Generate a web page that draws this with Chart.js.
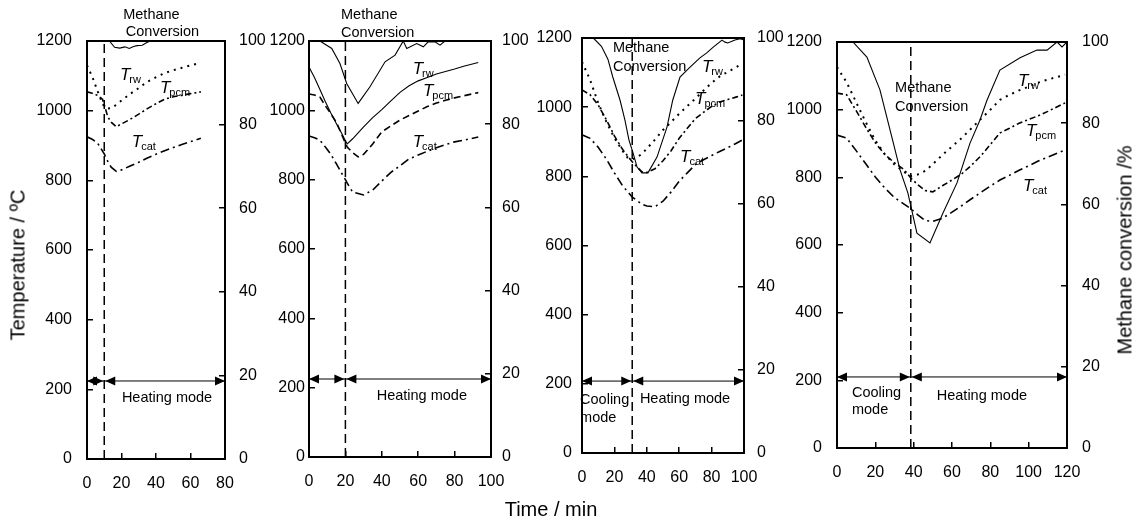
<!DOCTYPE html>
<html>
<head>
<meta charset="utf-8">
<script src="https://cdn.jsdelivr.net/npm/chart.js@4.4.1/dist/chart.umd.min.js"></script>
<style>
  body { margin: 0; background: #fff; width: 1136px; height: 521px; position: relative; overflow: hidden;
         font-family: "Liberation Sans", Arial, sans-serif; }
  canvas { position: absolute; top: 0; }
  .title { position: absolute; font-size: 20px; color: #000; white-space: nowrap; transform-origin: center; }
</style>
</head>
<body>
<canvas id="p1"></canvas>
<canvas id="p2"></canvas>
<canvas id="p3"></canvas>
<canvas id="p4"></canvas>
<div class="title" id="yLeft">Temperature / ºC</div>
<div class="title" id="yRight">Methane conversion /%</div>
<div class="title" id="xTitle">Time / min</div>
<script>
// panel 1 (mode switch at 10 min)
const p1Switch = 10;
const p1Time = [0, 3, 6, 9, 10, 12, 14, 17, 20, 25, 30, 35, 40, 45, 50, 55, 60, 66];
const p1Trw  = [1130, 1098, 1058, 1020, 1012, 1006, 1007, 1017, 1029, 1048, 1065, 1083, 1096, 1108, 1116, 1123, 1130, 1137];
const p1Tpcm = [1054, 1050, 1044, 1033, 1017, 983, 967, 954, 962, 975, 990, 1006, 1020, 1033, 1040, 1044, 1049, 1054];
const p1Tcat = [925, 918, 908, 884, 876, 855, 838, 826, 830, 841, 852, 864, 875, 885, 894, 903, 911, 921];
const p1ConvTime = [0, 13, 16, 19, 22, 24.5, 27, 29, 32, 34.5, 36.5, 66];
const p1Conv     = [100, 100, 98.5, 98.3, 98.6, 98.2, 98.7, 98.9, 99.0, 99.6, 100, 100];

// panel 2 (switch at 20 min)
const p2Switch = 20;
const p2Time = [0, 3, 6, 9, 12, 15, 18, 20, 21, 24, 27, 30, 35, 40, 45, 50, 55, 60, 65, 70, 75, 80, 85, 93];
const p2Trw  = [1125, 1095, 1060, 1025, 992, 962, 933, 912, 903, 918, 935, 952, 979, 1002, 1027, 1052, 1071, 1085, 1095, 1105, 1112, 1119, 1127, 1138];
const p2Tpcm = [1047, 1044, 1038, 1013, 990, 966, 930, 905, 894, 878, 866, 873, 903, 938, 955, 972, 985, 998, 1011, 1021, 1029, 1036, 1042, 1051];
const p2Tcat = [926, 921, 914, 894, 873, 846, 818, 800, 790, 764, 760, 756, 770, 796, 821, 840, 860, 871, 882, 892, 901, 909, 914, 923];
const p2ConvTime = [0, 6, 12.5, 17, 20.7, 27, 33.5, 41.8, 47.3, 51.8, 53.7, 59.2, 62.8, 65.5, 69.2, 72, 74.7, 93];
const p2Conv     = [100, 100, 98.2, 94.6, 89.8, 85.0, 89.0, 95.0, 96.6, 100, 98.2, 99.4, 98.6, 99.8, 99.8, 99.0, 100, 100];

// panel 3 (switch at 31 min)
const p3Switch = 31;
const p3Time = [0, 5, 10, 15, 20, 25, 28, 31, 34, 37, 40, 45, 50, 55, 60, 65, 70, 75, 80, 85, 90, 95, 99];
const p3Trw  = [1131, 1079, 1012, 958, 911, 874, 855, 849, 855, 865, 880, 906, 934, 957, 981, 1003, 1025, 1048, 1070, 1089, 1102, 1115, 1126];
const p3Tpcm = [1050, 1036, 1006, 964, 917, 878, 860, 842, 827, 813, 811, 822, 845, 874, 910, 939, 967, 985, 1002, 1015, 1022, 1029, 1035];
const p3Tcat = [920, 910, 884, 850, 810, 773, 757, 740, 730, 719, 714, 712, 728, 755, 786, 810, 834, 848, 860, 872, 883, 895, 905];
const p3ConvTime = [0, 7, 12, 16, 19, 23.5, 26.5, 29, 31.5, 34, 37, 40.7, 46.3, 52.5, 56, 60.5, 66.7, 72.8, 77, 81, 86.4, 88.3, 90, 94.4, 97.5, 100];
const p3Conv     = [100, 100, 98, 94.9, 90.6, 85, 80.2, 75.4, 72.3, 68.9, 67.5, 67.5, 71.3, 78.6, 85, 90.6, 93, 95.2, 96.4, 97.8, 99.5, 99, 98.8, 99.5, 99.8, 99.5];

// panel 4 (switch at 38.5 min)
const p4Switch = 38.5;
const p4Time = [0, 5, 10, 15, 20, 25, 30, 35, 38.5, 42, 46, 50, 55, 60, 65, 70, 75, 80, 85, 90, 95, 100, 105, 110, 119];
const p4Trw  = [1126, 1081, 1022, 963, 909, 868, 838, 816, 804, 808, 819, 839, 866, 891, 916, 944, 972, 1000, 1029, 1044, 1057, 1068, 1080, 1089, 1103];
const p4Tpcm = [1049, 1044, 997, 948, 902, 867, 843, 823, 798, 779, 761, 757, 775, 792, 810, 835, 863, 897, 931, 945, 960, 971, 982, 995, 1020];
const p4Tcat = [925, 916, 879, 840, 801, 768, 740, 721, 707, 690, 672, 670, 679, 697, 716, 736, 755, 774, 792, 806, 821, 834, 848, 860, 881];
const p4ConvTime = [0, 8.3, 15.6, 22.4, 27.7, 32.9, 37, 41.7, 48.5, 55.3, 62.6, 69.4, 74.6, 78.3, 85, 95.5, 104.3, 109.6, 114.8, 117.4, 120];
const p4Conv     = [100, 100, 96.3, 88.2, 78.3, 68.5, 62.8, 52.9, 50.5, 57.9, 65.3, 75.1, 80.8, 85.7, 93.1, 96.1, 98, 98, 100, 98.8, 100];

const xMaxes = [80, 100, 100, 120];

const H = 521;
const FONT = '"Liberation Sans", Arial, sans-serif';
Chart.defaults.font.family = FONT;
Chart.defaults.color = '#000';

// plot boxes in page pixels, label paddings, annotation positions (data units)
const panels = [
  { id: 'p1', left: 87, right: 225, top: 41, bottom: 459, lPad: 21, rPad: 20, pcmDash: [6, 3, 2, 3], rwSolid: false,
    time: p1Time, trw: p1Trw, tpcm: p1Tpcm, tcat: p1Tcat, convTime: p1ConvTime, conv: p1Conv, sw: p1Switch, xMax: xMaxes[0],
    notes: [['Methane', 21, 1275], ['Conversion', 22.5, 1226]],
    tl: [['rw', 19.1, 1102], ['pcm', 42.3, 1065], ['cat', 26, 910]],
    arrowY: 224, heat: [46.4, 175], cool: null },
  { id: 'p2', left: 309, right: 491, top: 41, bottom: 457, lPad: 10, rPad: 17, pcmDash: [7, 4], rwSolid: true,
    time: p2Time, trw: p2Trw, tpcm: p2Tpcm, tcat: p2Tcat, convTime: p2ConvTime, conv: p2Conv, sw: p2Switch, xMax: xMaxes[1],
    notes: [['Methane', 17.6, 1275], ['Conversion', 17.6, 1223]],
    tl: [['rw', 57, 1119], ['pcm', 62.6, 1056], ['cat', 57, 909]],
    arrowY: 225, heat: [62, 176], cool: null },
  { id: 'p3', left: 582, right: 744, top: 38, bottom: 453, lPad: 16, rPad: 19, pcmDash: [6, 3, 2, 3], rwSolid: false,
    time: p3Time, trw: p3Trw, tpcm: p3Tpcm, tcat: p3Tcat, convTime: p3ConvTime, conv: p3Conv, sw: p3Switch, xMax: xMaxes[2],
    notes: [['Methane', 19.1, 1171], ['Conversion', 19.1, 1116]],
    tl: [['rw', 74, 1116], ['pcm', 69.8, 1024], ['cat', 60.5, 856]],
    arrowY: 208, heat: [63.6, 156], cool: [-1.2, 153, 101] },
  { id: 'p4', left: 837, right: 1067, top: 42, bottom: 448, lPad: 21, rPad: 21, pcmDash: [6, 3, 2, 3], rwSolid: false,
    time: p4Time, trw: p4Trw, tpcm: p4Tpcm, tcat: p4Tcat, convTime: p4ConvTime, conv: p4Conv, sw: p4Switch, xMax: xMaxes[3],
    notes: [['Methane', 30.3, 1064], ['Conversion', 30.3, 1008]],
    tl: [['rw', 94.4, 1085], ['pcm', 98.6, 937], ['cat', 97, 774]],
    arrowY: 210, heat: [75.6, 154], cool: [7.8, 163, 112] }
];

const pts = (xs, ys) => xs.map((x, i) => ({ x: x, y: ys[i] }));
const plain = v => String(v);

function arrowHead(ctx, x, y, dir) {
  ctx.beginPath();
  ctx.moveTo(x, y);
  ctx.lineTo(x - dir * 10, y - 4.5);
  ctx.lineTo(x - dir * 10, y + 4.5);
  ctx.closePath();
  ctx.fill();
}

function makePanel(p) {
  const canvas = document.getElementById(p.id);
  canvas.width = p.right - p.left + 110;
  canvas.height = H;
  canvas.style.left = (p.left - 60) + 'px';

  const decor = {
    id: 'decor',
    afterDraw(chart) {
      const { ctx, chartArea: a, scales: { x, yT } } = chart;
      ctx.save();
      // top frame line
      ctx.strokeStyle = '#000';
      ctx.lineWidth = 2;
      ctx.beginPath();
      ctx.moveTo(a.left - 1, a.top);
      ctx.lineTo(a.right + 1, a.top);
      ctx.stroke();

      // mode arrows
      const ay = yT.getPixelForValue(p.arrowY);
      const x0 = x.getPixelForValue(0), xs = x.getPixelForValue(p.sw), x1 = x.getPixelForValue(p.xMax);
      ctx.lineWidth = 1;
      ctx.fillStyle = '#000';
      ctx.beginPath();
      ctx.moveTo(x0, ay); ctx.lineTo(x1, ay);
      ctx.stroke();
      arrowHead(ctx, x0, ay, -1);
      arrowHead(ctx, xs - 1, ay, 1);
      arrowHead(ctx, xs + 1, ay, -1);
      arrowHead(ctx, x1, ay, 1);

      // texts
      ctx.textBaseline = 'middle';
      ctx.font = '14.5px ' + FONT;
      ctx.textAlign = 'left';
      p.notes.forEach(([t, tx, ty]) => ctx.fillText(t, x.getPixelForValue(tx), yT.getPixelForValue(ty)));
      ctx.textAlign = 'center';
      ctx.fillText('Heating mode', x.getPixelForValue(p.heat[0]), yT.getPixelForValue(p.heat[1]));
      if (p.cool) {
        ctx.textAlign = 'left';
        ctx.fillText('Cooling', x.getPixelForValue(p.cool[0]), yT.getPixelForValue(p.cool[1]));
        ctx.fillText('mode', x.getPixelForValue(p.cool[0]), yT.getPixelForValue(p.cool[2]));
      }
      ctx.textAlign = 'left';
      p.tl.forEach(([sub, tx, ty]) => {
        const px = x.getPixelForValue(tx), py = yT.getPixelForValue(ty);
        ctx.font = 'italic 17px ' + FONT;
        ctx.fillText('T', px, py);
        const w = ctx.measureText('T').width;
        ctx.font = '11px ' + FONT;
        ctx.fillText(sub, px + w - 1, py + 5);
      });
      ctx.restore();
    }
  };

  const tickGrid = { drawOnChartArea: false, drawTicks: true, tickLength: -6, color: '#000', lineWidth: 1.5 };
  const border = { display: true, color: '#000', width: 2 };

  new Chart(canvas, {
    type: 'line',
    data: {
      datasets: [
        { data: pts(p.convTime, p.conv), yAxisID: 'yC', borderColor: '#000', borderWidth: 1.1 },
        { data: pts(p.time, p.trw), yAxisID: 'yT', borderColor: '#000',
          borderWidth: p.rwSolid ? 1.1 : 2, borderDash: p.rwSolid ? [] : [2, 5] },
        { data: pts(p.time, p.tpcm), yAxisID: 'yT', borderColor: '#000', borderWidth: 1.6, borderDash: p.pcmDash },
        { data: pts(p.time, p.tcat), yAxisID: 'yT', borderColor: '#000', borderWidth: 1.6, borderDash: [9, 4, 2, 4] },
        { data: [{ x: p.sw, y: 0 }, { x: p.sw, y: 1200 }], yAxisID: 'yT', borderColor: '#000', borderWidth: 1.5, borderDash: [9, 5] }
      ]
    },
    options: {
      responsive: false,
      animation: false,
      layout: { padding: { top: p.top, left: 0, right: 0, bottom: 0 } },
      elements: { point: { radius: 0 }, line: { tension: 0 } },
      plugins: { legend: { display: false }, tooltip: { enabled: false } },
      scales: {
        x: {
          type: 'linear', min: 0, max: p.xMax,
          afterFit: s => { s.height = H - p.bottom; },
          ticks: { stepSize: 20, padding: 21, font: { size: 16 }, maxRotation: 0, callback: plain },
          grid: tickGrid, border: border
        },
        yT: {
          position: 'left', min: 0, max: 1200,
          afterFit: s => { s.width = 60; },
          ticks: { stepSize: 200, padding: p.lPad, font: { size: 16 }, callback: plain },
          grid: tickGrid, border: border
        },
        yC: {
          position: 'right', min: 0, max: 100,
          afterFit: s => { s.width = 50; },
          ticks: { stepSize: 20, padding: p.rPad, font: { size: 16 }, callback: plain },
          grid: tickGrid, border: border
        }
      }
    },
    plugins: [decor]
  });
}

panels.forEach(makePanel);

function placeTitle(id, cx, cy, rot) {
  const el = document.getElementById(id);
  el.style.left = cx + 'px';
  el.style.top = cy + 'px';
  el.style.transform = 'translate(-50%, -50%)' + (rot ? ' rotate(-90deg)' : '');
}
placeTitle('yLeft', 18, 265, true);
placeTitle('yRight', 1125, 250, true);
placeTitle('xTitle', 551, 509, false);
</script>
</body>
</html>
